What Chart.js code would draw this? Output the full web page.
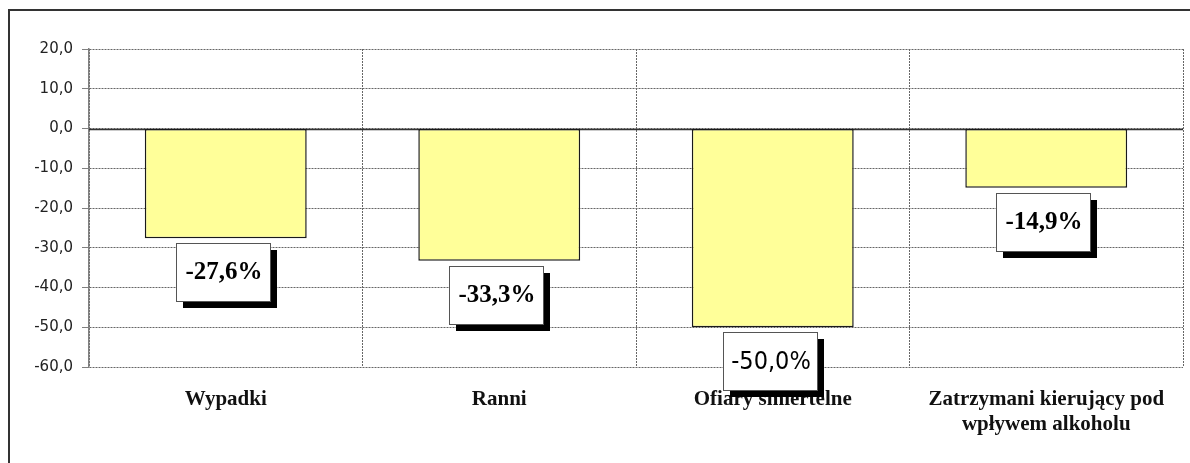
<!DOCTYPE html>
<html>
<head>
<meta charset="utf-8">
<script src="https://cdn.jsdelivr.net/npm/chart.js@4/dist/chart.umd.min.js"></script>
<style>
  html, body { margin: 0; padding: 0; background: #fff; }
  #wrap { width: 1190px; height: 463px; position: relative; }
</style>
</head>
<body>
<div id="wrap"><canvas id="chart" width="1190" height="463"></canvas></div>
<script>
const categories = [
  'Wypadki',
  'Ranni',
  'Ofiary śmiertelne',
  ['Zatrzymani kierujący pod', 'wpływem alkoholu']
];
const changePct = [-27.6, -33.3, -50.0, -14.9];
const yMin = -60;
const yMax = 20;
const yStep = 10;

const fmtPct = v => v.toFixed(1).replace('.', ',') + '%';
const fmtTick = v => v.toFixed(1).replace('.', ',');

// frame lines (only left + top visible in the crop)
const framePlugin = {
  id: 'frame',
  beforeDraw(chart) {
    const ctx = chart.ctx;
    ctx.save();
    ctx.fillStyle = '#fff';
    ctx.fillRect(0, 0, chart.width, chart.height);
    ctx.fillStyle = '#333';
    ctx.fillRect(8, 9, 2, chart.height);
    ctx.fillRect(8, 9, chart.width, 2);
    ctx.restore();
  }
};

// solid zero line over the dotted grid
const zeroLinePlugin = {
  id: 'zeroLine',
  beforeDatasetsDraw(chart) {
    const { ctx, chartArea, scales } = chart;
    const y = Math.round(scales.y.getPixelForValue(0)) + 0.5;
    ctx.save();
    ctx.strokeStyle = '#333';
    ctx.lineWidth = 1.5;
    ctx.beginPath();
    ctx.moveTo(chartArea.left, y);
    ctx.lineTo(chartArea.right, y);
    ctx.stroke();
    ctx.restore();
  }
};

// value boxes with drop shadow under each bar
const valueBoxPlugin = {
  id: 'valueBox',
  afterDatasetsDraw(chart) {
    const ctx = chart.ctx;
    const meta = chart.getDatasetMeta(0);
    const w = 94, h = 58, sh = 7;
    ctx.save();
    meta.data.forEach((bar, i) => {
      const cx = bar.x - 3;
      const left = Math.round(cx - w / 2);
      const top = Math.round(bar.y + 5);
      ctx.fillStyle = '#000';
      ctx.fillRect(left + sh, top + sh, w, h);
      ctx.fillStyle = '#fff';
      ctx.fillRect(left, top, w, h);
      ctx.strokeStyle = '#555';
      ctx.lineWidth = 1;
      ctx.strokeRect(left + 0.5, top + 0.5, w, h);
      ctx.fillStyle = '#000';
      ctx.textAlign = 'center';
      ctx.textBaseline = 'middle';
      ctx.font = i === 2 ? '25px "DejaVu Sans Condensed", "DejaVu Sans"' : 'bold 25px "Liberation Serif"';
      ctx.fillText(fmtPct(changePct[i]), left + w / 2 + 1, top + h / 2 + 1);
    });
    ctx.restore();
  }
};

new Chart(document.getElementById('chart'), {
  type: 'bar',
  data: {
    labels: categories,
    datasets: [{
      data: changePct,
      backgroundColor: '#FFFF99',
      borderColor: '#1a1a1a',
      borderWidth: 1.5,
      borderSkipped: false,
      barPercentage: 0.592,
      categoryPercentage: 1
    }]
  },
  options: {
    responsive: false,
    animation: false,
    layout: { padding: { top: 49, right: 7, left: 0, bottom: 0 } },
    plugins: { legend: { display: false }, tooltip: { enabled: false } },
    scales: {
      x: {
        offset: true,
        grid: { offset: true, color: '#666', lineWidth: 1, drawTicks: false },
        border: { display: false, dash: [2, 1] },
        ticks: {
          padding: 20,
          color: '#111',
          font: { family: '"Liberation Serif"', weight: 'bold', size: 21, lineHeight: 1.2 }
        },
        afterFit(s) { s.height = 96; }
      },
      y: {
        min: yMin,
        max: yMax,
        grid: {
          color: '#666',
          lineWidth: 1,
          drawTicks: true,
          tickLength: 7,
          tickColor: '#808080',
          tickBorderDash: []
        },
        border: { display: true, color: '#808080', width: 1.5, dash: [2, 1] },
        ticks: {
          stepSize: yStep,
          padding: 9,
          color: '#222',
          font: { family: '"DejaVu Sans"', size: 15 },
          callback: v => fmtTick(v)
        },
        afterFit(s) { s.width = 89; }
      }
    }
  },
  plugins: [framePlugin, zeroLinePlugin, valueBoxPlugin]
});
</script>
</body>
</html>
